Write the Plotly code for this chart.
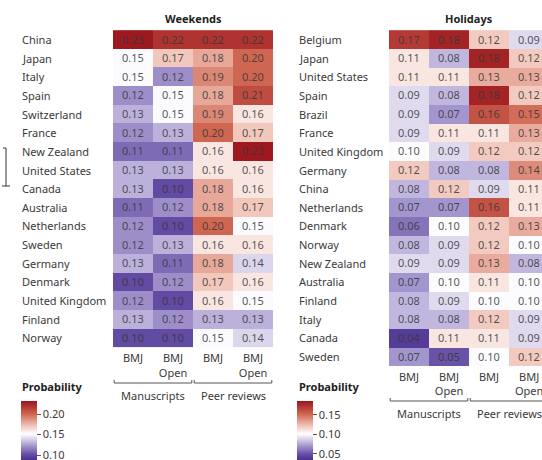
import plotly.graph_objects as go

W, H = 542, 460

# ---------------- data ----------------
weekend_countries = ["China", "Japan", "Italy", "Spain", "Switzerland", "France",
                     "New Zealand", "United States", "Canada", "Australia",
                     "Netherlands", "Sweden", "Germany", "Denmark",
                     "United Kingdom", "Finland", "Norway"]
weekend_bmj_ms = [0.23, 0.15, 0.15, 0.12, 0.13, 0.12, 0.11, 0.13, 0.13, 0.11,
                  0.12, 0.12, 0.13, 0.10, 0.12, 0.13, 0.10]
weekend_open_ms = [0.22, 0.17, 0.12, 0.15, 0.15, 0.13, 0.11, 0.13, 0.10, 0.12,
                   0.10, 0.13, 0.11, 0.12, 0.10, 0.12, 0.10]
weekend_bmj_pr = [0.22, 0.18, 0.19, 0.18, 0.19, 0.20, 0.16, 0.16, 0.18, 0.18,
                  0.20, 0.16, 0.18, 0.17, 0.16, 0.13, 0.15]
weekend_open_pr = [0.22, 0.20, 0.20, 0.21, 0.16, 0.17, 0.23, 0.16, 0.16, 0.17,
                   0.15, 0.16, 0.14, 0.16, 0.15, 0.13, 0.14]

holiday_countries = ["Belgium", "Japan", "United States", "Spain", "Brazil",
                     "France", "United Kingdom", "Germany", "China",
                     "Netherlands", "Denmark", "Norway", "New Zealand",
                     "Australia", "Finland", "Italy", "Canada", "Sweden"]
holiday_bmj_ms = [0.17, 0.11, 0.11, 0.09, 0.09, 0.09, 0.10, 0.12, 0.08, 0.07,
                  0.06, 0.08, 0.09, 0.07, 0.08, 0.08, 0.04, 0.07]
holiday_open_ms = [0.18, 0.08, 0.11, 0.08, 0.07, 0.11, 0.09, 0.08, 0.12, 0.07,
                   0.10, 0.09, 0.09, 0.10, 0.09, 0.08, 0.11, 0.05]
holiday_bmj_pr = [0.12, 0.18, 0.13, 0.18, 0.16, 0.11, 0.12, 0.08, 0.09, 0.16,
                  0.12, 0.12, 0.13, 0.11, 0.10, 0.12, 0.11, 0.10]
holiday_open_pr = [0.09, 0.12, 0.13, 0.12, 0.15, 0.13, 0.12, 0.14, 0.11, 0.11,
                   0.13, 0.10, 0.08, 0.10, 0.10, 0.09, 0.09, 0.12]

column_labels = ["BMJ", "BMJ<br>Open", "BMJ", "BMJ<br>Open"]
group_labels = ["Manuscripts", "Peer reviews"]
weekend_ticks = [0.10, 0.15, 0.20]
holiday_ticks = [0.05, 0.10, 0.15]

# ---------------- helpers ----------------
def fx(px):
    return px / W

def fy(py):
    return 1 - py / H

def rows(*cols):
    return [list(r) for r in zip(*cols)]

colorscale = [[0.0, "#4b2f90"], [0.10, "#6650a6"], [0.27, "#b2a6d6"],
              [0.44, "#ffffff"], [0.58, "#f1c4b8"], [0.78, "#cf6550"],
              [1.0, "#9b141c"]]

FONT = "Noto Sans"
TXT = "#3a3a3a"

wk_z = rows(weekend_bmj_ms, weekend_open_ms, weekend_bmj_pr, weekend_open_pr)
hd_z = rows(holiday_bmj_ms, holiday_open_ms, holiday_bmj_pr, holiday_open_pr)

fig = go.Figure()

def cbar(x0, ticks):
    return dict(x=fx(x0), xanchor="left", xpad=0, y=fy(401), yanchor="top",
                ypad=0, len=59, lenmode="pixels", thickness=16,
                outlinewidth=0, ticks="outside", ticklen=4, tickwidth=1,
                tickcolor="#555", tickvals=ticks, tickformat=".2f",
                ticklabeloverflow="allow",
                tickfont=dict(size=11, color=TXT, family=FONT))

fig.add_trace(go.Heatmap(
    z=wk_z, x=[0, 1, 2, 3], y=weekend_countries, xaxis="x", yaxis="y",
    colorscale=colorscale, zmin=0.088, zmax=0.232,
    texttemplate="%{z:.2f}", textfont=dict(size=11, color="rgba(55,55,55,0.85)", family=FONT),
    colorbar=cbar(21, weekend_ticks), hoverinfo="skip"))

fig.add_trace(go.Heatmap(
    z=hd_z, x=[0, 1, 2, 3], y=holiday_countries, xaxis="x2", yaxis="y2",
    colorscale=colorscale, zmin=0.034, zmax=0.186,
    texttemplate="%{z:.2f}", textfont=dict(size=11, color="rgba(55,55,55,0.85)", family=FONT),
    colorbar=cbar(297, holiday_ticks), hoverinfo="skip"))

axis_common = dict(showgrid=False, zeroline=False, showline=False, ticks="")
fig.update_layout(
    width=W, height=H, margin=dict(l=0, r=0, t=0, b=0),
    paper_bgcolor="white", plot_bgcolor="white",
    font=dict(family=FONT, size=11, color=TXT),
    xaxis=dict(domain=[fx(113), fx(273)], range=[-0.5, 3.5], anchor="y",
               tickvals=[0, 1, 2, 3], ticktext=column_labels,
               ticklabelstandoff=3,
               tickfont=dict(size=11, color=TXT), **axis_common),
    yaxis=dict(domain=[fy(347.4), fy(30)], autorange="reversed", anchor="x",
               showticklabels=False, **axis_common),
    xaxis2=dict(domain=[fx(389), 1.0], range=[-0.5, 3.325], anchor="y2",
                tickvals=[0, 1, 2, 3], ticktext=column_labels,
                ticklabelstandoff=3,
                tickfont=dict(size=11, color=TXT), **axis_common),
    yaxis2=dict(domain=[fy(366), fy(30)], autorange="reversed", anchor="x2",
                showticklabels=False, **axis_common),
)

ann = []
# panel titles
ann.append(dict(text="<b>Weekends</b>", xref="x domain", x=0.5, yref="paper",
                y=fy(18), yanchor="middle", showarrow=False,
                font=dict(size=11, color="#222")))
ann.append(dict(text="<b>Holidays</b>", xref="x2 domain", x=(469 - 389) / (W - 389),
                yref="paper", y=fy(18), yanchor="middle", showarrow=False,
                font=dict(size=11, color="#222")))
# last holiday column label (its tick falls beyond the visible axis range)
ann.append(dict(text=column_labels[3], xref="x2", x=3, yref="paper", y=fy(367),
                yanchor="top", showarrow=False, font=dict(size=11, color=TXT)))
# country labels
for c in weekend_countries:
    ann.append(dict(text=c, xref="paper", x=fx(20), xanchor="left", yref="y",
                    y=c, yanchor="middle", showarrow=False,
                    font=dict(size=11, color=TXT)))
for c in holiday_countries:
    ann.append(dict(text=c, xref="paper", x=fx(297), xanchor="left", yref="y2",
                    y=c, yanchor="middle", showarrow=False,
                    font=dict(size=11, color=TXT)))
# group labels
for xr, ypx in (("x", 395), ("x2", 413)):
    for i, g in enumerate(group_labels):
        ann.append(dict(text=g, xref=xr, x=0.5 + 2 * i, yref="paper", y=fy(ypx),
                        yanchor="middle", showarrow=False,
                        font=dict(size=11, color=TXT)))
# colorbar titles
for x0 in (20, 297):
    ann.append(dict(text="<b>Probability</b>", xref="paper", x=fx(x0), xanchor="left",
                    yref="paper", y=fy(386), yanchor="middle", showarrow=False,
                    font=dict(size=11, color="#222")))
fig.update_layout(annotations=ann)

# brackets
shapes = []
for xr, ypx in (("x", 383), ("x2", 401)):
    for i in range(2):
        a, b = -0.47 + 2 * i, 1.47 + 2 * i
        y0, y1 = fy(ypx), fy(ypx - 3)
        for (xa, ya, xb, yb) in ((a, y1, a, y0), (a, y0, b, y0), (b, y0, b, y1)):
            shapes.append(dict(type="line", xref=xr, yref="paper", x0=xa, y0=ya,
                               x1=xb, y1=yb, line=dict(color="#555", width=1)))
# stray bracket mark on left edge
shapes.append(dict(type="path", xref="paper", yref="paper",
                   path=f"M {fx(3)} {fy(148)} L {fx(6)} {fy(148)} L {fx(6)} {fy(186)} "
                        f"M {fx(2)} {fy(186)} L {fx(10)} {fy(186)}",
                   line=dict(color="#333", width=1)))
fig.update_layout(shapes=shapes)

fig.write_html("out.html")
